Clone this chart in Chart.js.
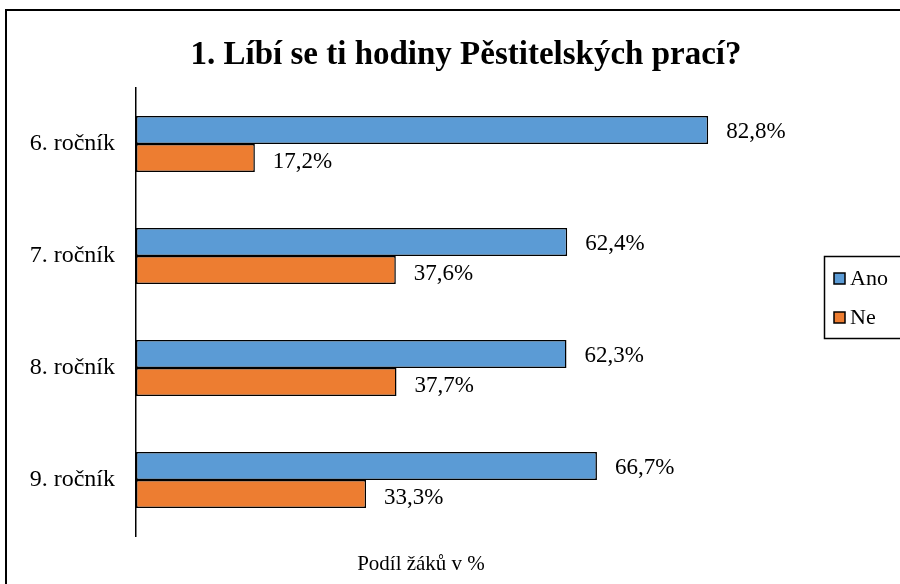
<!DOCTYPE html>
<html><head><meta charset="utf-8">
<script src="https://cdn.jsdelivr.net/npm/chart.js@4/dist/chart.umd.min.js"></script>
<style>html,body{margin:0;padding:0;background:#fff}#wrap{width:900px;height:584px;position:relative}</style>
</head><body><div id="wrap"><canvas id="c" width="900" height="584"></canvas></div>
<script>
const categories = ["6. ročník", "7. ročník", "8. ročník", "9. ročník"];
const seriesNames = ["Ano", "Ne"];
const anoValues = [82.8, 62.4, 62.3, 66.7];
const neValues = [17.2, 37.6, 37.7, 33.3];
const titleText = "1. Líbí se ti hodiny Pěstitelských prací?";
const axisTitle = "Podíl žáků v %";
const colors = ["#5B9BD5", "#ED7D31"];
const FONT = "'Liberation Serif', 'Times New Roman', serif";

const deco = {
  id: 'deco',
  beforeDraw(chart) {
    const ctx = chart.ctx;
    ctx.save();
    ctx.fillStyle = '#fff';
    ctx.fillRect(0, 0, chart.width, chart.height);
    ctx.fillStyle = '#000';
    ctx.fillRect(5, 9, 895, 2);
    ctx.fillRect(5, 9, 2, 575);
    ctx.restore();
  },
  afterDraw(chart) {
    const ctx = chart.ctx;
    ctx.save();
    ctx.fillStyle = '#000';
    ctx.textAlign = 'center';
    ctx.textBaseline = 'middle';
    ctx.font = "bold 33px " + FONT;
    ctx.fillText(titleText, 466, 55);
    ctx.font = "21px " + FONT;
    ctx.fillText(axisTitle, 421, 564);
    // data labels
    ctx.font = "23px " + FONT;
    ctx.textAlign = 'left';
    const dy = [2, 4];
    chart.data.datasets.forEach((ds, di) => {
      const meta = chart.getDatasetMeta(di);
      meta.data.forEach((bar, i) => {
        ctx.fillText(ds.data[i].toFixed(1).replace('.', ',') + '%', bar.x + 18, bar.y + dy[di]);
      });
    });
    // legend
    ctx.font = "22px " + FONT;
    ctx.lineWidth = 1.5;
    ctx.strokeStyle = '#000';
    ctx.strokeRect(824.5, 256.5, 80, 82);
    seriesNames.forEach((n, i) => {
      const y = 279 + i * 39;
      ctx.fillStyle = colors[i];
      ctx.fillRect(834, y - 6, 11, 11);
      ctx.strokeRect(834, y - 6, 11, 11);
      ctx.fillStyle = '#000';
      ctx.fillText(n, 850, y);
    });
    ctx.restore();
  }
};

new Chart(document.getElementById('c'), {
  type: 'bar',
  data: {
    labels: categories,
    datasets: [
      { label: seriesNames[0], data: anoValues, backgroundColor: colors[0], borderColor: '#000', borderWidth: 1.5, borderSkipped: false },
      { label: seriesNames[1], data: neValues, backgroundColor: colors[1], borderColor: '#000', borderWidth: 1.5, borderSkipped: false }
    ]
  },
  options: {
    indexAxis: 'y',
    responsive: false,
    animation: false,
    events: [],
    layout: { padding: { left: 0, right: 73, top: 88, bottom: 48 } },
    datasets: { bar: { categoryPercentage: 0.5, barPercentage: 1.0 } },
    plugins: { legend: { display: false }, title: { display: false }, tooltip: { enabled: false } },
    scales: {
      x: {
        min: 0, max: 100,
        ticks: { display: false },
        grid: { display: false },
        border: { display: false },
        afterFit(s) { s.height = 0; }
      },
      y: {
        grid: { display: false },
        border: { display: true, color: '#000', width: 1.5 },
        ticks: { color: '#000', font: { family: FONT, size: 24 }, padding: 13 },
        afterFit(s) { s.width = 136; }
      }
    }
  },
  plugins: [deco]
});
</script></body></html>
